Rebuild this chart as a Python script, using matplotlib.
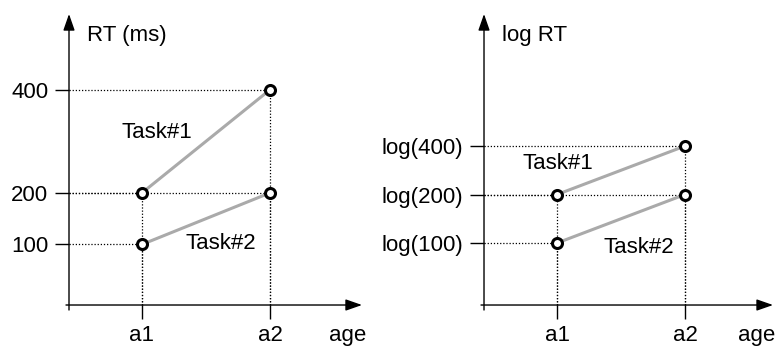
import numpy as np
import matplotlib
matplotlib.use('Agg')
import matplotlib.pyplot as plt

plt.rcParams['font.family'] = ['Liberation Sans', 'DejaVu Sans']
plt.rcParams['font.size'] = 16

# data
ages = ['a1', 'a2']
age_pos = [1, 2]
task1_rt = [200, 400]
task2_rt = [100, 200]
rt_ticks = [100, 200, 400]
rt_tick_labels = ['100', '200', '400']
log_tick_labels = ['log(100)', 'log(200)', 'log(400)']
task_names = ['Task#1', 'Task#2']

fig = plt.figure(figsize=(7.82, 3.47), dpi=100)
ax1 = fig.add_axes([0.0844, 0.1066, 0.3785, 0.8530])
ax2 = fig.add_axes([0.6151, 0.1066, 0.3734, 0.8530])


def draw_panel(ax, xlim, ylim, x0, y0, t1, t2, yticks, yticklabels, ylabel, label_pos):
    ax.set_xlim(*xlim)
    ax.set_ylim(*ylim)
    ax.patch.set_alpha(0)
    for s in ['top', 'right']:
        ax.spines[s].set_visible(False)
    ax.spines['left'].set_position(('data', x0))
    ax.spines['bottom'].set_position(('data', y0))
    ax.spines['left'].set_visible(False)
    ax.spines['bottom'].set_visible(False)

    # axis lines with arrows
    arrow = dict(arrowstyle='-|>,head_length=1.0,head_width=0.35', lw=1.0,
                 color='black', shrinkA=0, shrinkB=0, mutation_scale=10)
    ax.annotate('', xy=(1, y0), xytext=(0, y0),
                xycoords=ax.get_yaxis_transform(), textcoords=ax.get_yaxis_transform(),
                arrowprops=arrow, annotation_clip=False)
    ax.annotate('', xy=(x0, 1), xytext=(x0, 0),
                xycoords=ax.get_xaxis_transform(), textcoords=ax.get_xaxis_transform(),
                arrowprops=arrow, annotation_clip=False)

    ax.set_xticks(age_pos)
    ax.set_xticklabels(ages)
    ax.set_yticks(yticks)
    ax.set_yticklabels(yticklabels)
    ax.tick_params(axis='y', direction='out', length=10, width=1, pad=5)
    ax.tick_params(axis='x', direction='out', length=10, width=1, pad=4.5)

    # dotted guide lines
    for y_vals in [t1, t2]:
        for xp, yp in zip(age_pos, y_vals):
            ax.plot([x0, xp], [yp, yp], ls=(0, (1, 1.5)), lw=0.9, color='black', zorder=1)
            ax.plot([xp, xp], [y0, yp], ls=(0, (1, 1.5)), lw=0.9, color='black', zorder=1)

    for y_vals in [t1, t2]:
        ax.plot(age_pos, y_vals, color='#aaaaaa', lw=2.2, zorder=2)
        ax.plot(age_pos, y_vals, 'o', ms=7.2, mfc='white', mec='black', mew=2.2, zorder=3)

    ax.text(label_pos[0][0], label_pos[0][1], task_names[0], ha='center', va='center')
    ax.text(label_pos[1][0], label_pos[1][1], task_names[1], ha='center', va='center')
    ax.text(label_pos[2], 0.926, ylabel, transform=ax.transAxes, ha='left', va='center')
    ax.text(label_pos[3], -0.105, 'age', transform=ax.transAxes, ha='left', va='baseline')


draw_panel(ax1, (0.40625, 2.71875), (-27.15, 546.8), 0.4297, -17.45,
           task1_rt, task2_rt, rt_ticks, rt_tick_labels, 'RT (ms)',
           [(1.117, 318), (1.617, 101), 0.071, 0.89])

draw_panel(ax2, (0.40625, 2.6875), (1.5841, 3.4215), 0.4297, 1.6151,
           np.log10(task1_rt), np.log10(task2_rt), np.log10(rt_ticks), log_tick_labels, 'log RT',
           [(1.008, 2.4966), (1.64, 1.975), 0.072, 0.88])

fig.savefig('out.png', dpi=100)
